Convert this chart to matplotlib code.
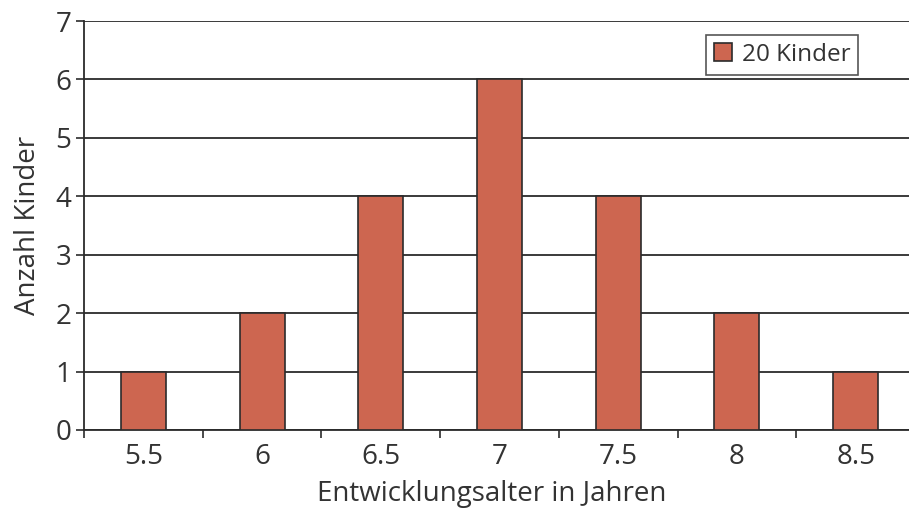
import matplotlib
matplotlib.use("Agg")
import matplotlib.pyplot as plt
import numpy as np

plt.rcParams['font.family'] = ['Open Sans', 'DejaVu Sans']

ages = ["5.5", "6", "6.5", "7", "7.5", "8", "8.5"]
counts = [1, 2, 4, 6, 4, 2, 1]
series_label = "20 Kinder"

bar_color = "#CD6650"
line_color = "#2b2b2b"
text_color = "#333333"

fig = plt.figure(figsize=(9.09, 5.14), dpi=100)
W, H = 909, 514
left, right, top, bottom = 84, 915, 21, 430
ax = fig.add_axes([left / W, 1 - bottom / H, (right - left) / W, (bottom - top) / H])

x = np.arange(len(ages))
ax.bar(x, counts, width=0.38, color=bar_color, edgecolor=line_color,
       linewidth=1.2, zorder=3, label=series_label)

ax.set_xlim(-0.5, len(ages) - 0.5)
ax.set_ylim(0, 7)
ax.set_yticks(range(0, 8))
ax.yaxis.grid(True, color=line_color, linewidth=1.3, zorder=0)
ax.set_axisbelow(True)

ax.set_xticks(x)
ax.set_xticklabels(ages)
ax.set_xticks(np.arange(-0.5, len(ages) + 0.5, 1), minor=True)
ax.tick_params(axis='x', which='major', length=0, pad=9, labelsize=20, labelcolor=text_color)
ax.tick_params(axis='x', which='minor', length=6, width=1.2, color=line_color, direction='out')
ax.tick_params(axis='y', length=6, width=1.2, color=line_color, pad=3, labelsize=20, labelcolor=text_color)

for s in ['top', 'right']:
    ax.spines[s].set_visible(False)
for s in ['left', 'bottom']:
    ax.spines[s].set_color(line_color)
    ax.spines[s].set_linewidth(1.3)

ax.set_xlabel("Entwicklungsalter in Jahren", fontsize=20, color=text_color)
ax.xaxis.set_label_coords((492 - left) / (right - left), -(480 - bottom) / (bottom - top), transform=ax.transAxes)
ax.xaxis.label.set_verticalalignment('top')
ax.set_ylabel("Anzahl Kinder", fontsize=20, color=text_color, labelpad=10)

leg = ax.legend(loc='upper right', bbox_to_anchor=((858 - left) / (right - left), 1 - (35 - top) / (bottom - top)),
                fontsize=17.5, frameon=True, fancybox=False, borderpad=0.32,
                handlelength=0.75, handleheight=0.75, handletextpad=0.4, borderaxespad=0)
leg.get_frame().set_edgecolor(line_color)
leg.get_frame().set_linewidth(1.2)
for t in leg.get_texts():
    t.set_color(text_color)

fig.savefig("out.png", dpi=100)
